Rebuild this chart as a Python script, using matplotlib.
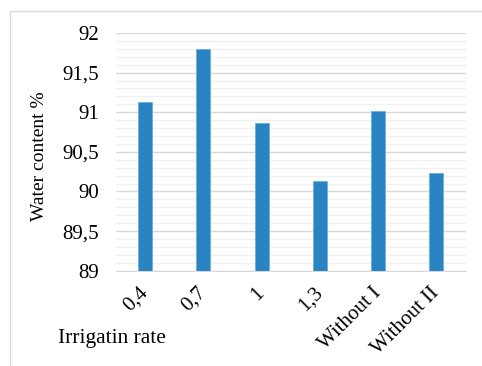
import matplotlib.pyplot as plt
from matplotlib.patches import Rectangle
from matplotlib.ticker import MultipleLocator, FuncFormatter

plt.rcParams['font.family'] = ['Liberation Serif', 'DejaVu Serif']

rates = ["0,4", "0,7", "1", "1,3", "Without I", "Without II"]
water_content = [91.13, 91.80, 90.87, 90.13, 91.02, 90.23]

fig = plt.figure(figsize=(4.82, 3.66), dpi=100)
ax = fig.add_axes([0.2407, 0.2604, 0.7253, 0.6494])

x = range(len(rates))
ax.bar(x, water_content, width=0.24, color='#2a84c2', edgecolor='#6aaede',
       linewidth=0.6, zorder=3)

ax.set_ylim(89, 92)
ax.set_xlim(-0.5, len(rates) - 0.5)
ax.yaxis.set_major_locator(MultipleLocator(0.5))
ax.yaxis.set_minor_locator(MultipleLocator(0.1))
ax.yaxis.set_major_formatter(
    FuncFormatter(lambda v, _: f"{v:g}".replace(".", ",")))
ax.grid(axis='y', which='major', color='#d9d9d9', linewidth=1.0, zorder=0)
ax.grid(axis='y', which='minor', color='#f0f0f0', linewidth=1.0, zorder=0)
ax.tick_params(axis='both', which='both', length=0, labelsize=15)
ax.tick_params(axis='y', pad=12)

ax.set_xticks(list(x))
ax.set_xticklabels(rates, rotation=45, ha='right', va='center',
                   rotation_mode='anchor')
ax.tick_params(axis='x', pad=14)

for side in ['top', 'right', 'left']:
    ax.spines[side].set_visible(False)
ax.spines['bottom'].set_color('#d9d9d9')

fig.text(40 / 482, 1 - 156 / 366, "Water content %", rotation=90,
         ha='center', va='center', fontsize=14)
fig.text(58 / 482, 1 - 338 / 366, "Irrigatin rate", ha='left', va='center',
         fontsize=15.5)

# chart frame, cut off at the right and bottom
fig.patches.append(Rectangle((10 / 482, -0.1), 1.2, 1 - 11 / 366 + 0.1,
                             transform=fig.transFigure, fill=False,
                             edgecolor='#d9d9d9', linewidth=1.0))

fig.savefig("out.png", dpi=100)
